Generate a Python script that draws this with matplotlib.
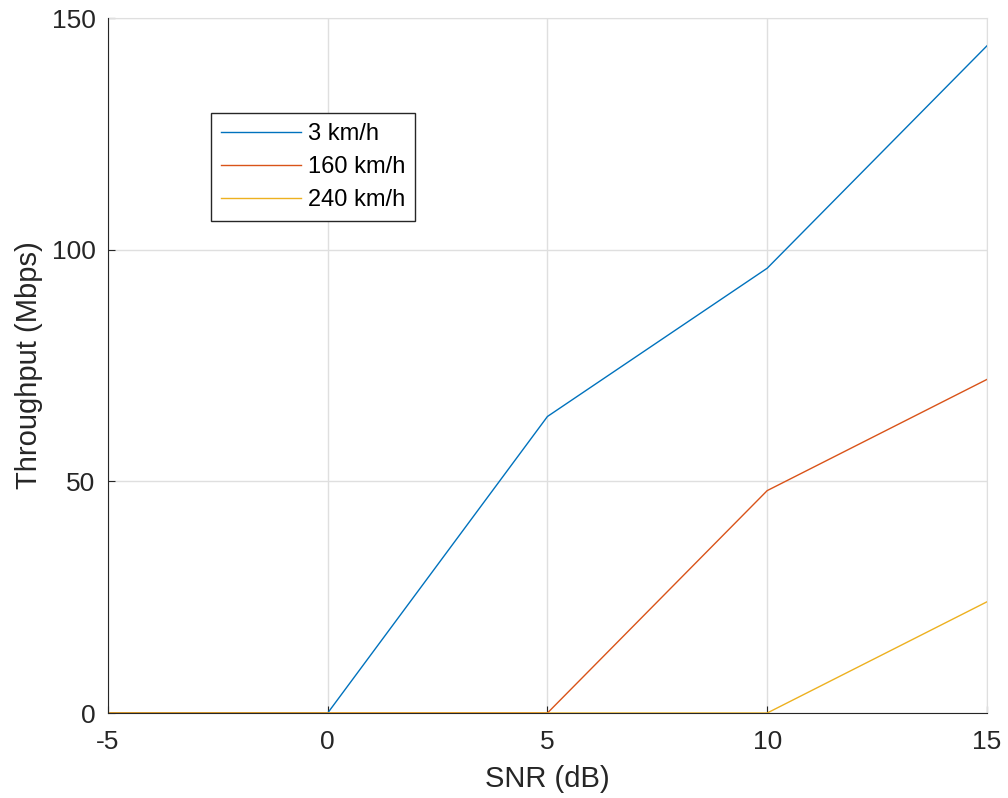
import matplotlib.pyplot as plt

snr = [-5, 0, 5, 10, 15]
speeds = ['3 km/h', '160 km/h', '240 km/h']
thr_3 = [0, 0, 64, 96, 144]
thr_160 = [0, 0, 0, 48, 72]
thr_240 = [0, 0, 0, 0, 24]
colors = ['#0072BD', '#D95319', '#EDB120']

plt.rcParams['font.family'] = ['Liberation Sans', 'DejaVu Sans']
plt.rcParams['axes.unicode_minus'] = False

fig = plt.figure(figsize=(10.08, 7.98), dpi=100)
ax = fig.add_axes([0.1071, 0.1065, 0.8720, 0.8709])

for y, lab, c in zip([thr_3, thr_160, thr_240], speeds, colors):
    ax.plot(snr, y, color=c, lw=1.0, label=lab)

ax.set_xlim(-5, 15)
ax.set_ylim(0, 150)
ax.set_xticks([-5, 0, 5, 10, 15])
ax.set_yticks([0, 50, 100, 150])
ax.grid(True, color='#dfdfdf', lw=1.0)
ax.set_axisbelow(True)
for s in ['top', 'right']:
    ax.spines[s].set_color('#dfdfdf')
for s in ['left', 'bottom']:
    ax.spines[s].set_color('#262626')
    ax.spines[s].set_zorder(5)
ax.tick_params(direction='in', length=5, labelsize=19, colors='#262626')
ax.tick_params(axis='x', pad=12)
ax.tick_params(axis='y', pad=9)
ax.set_xlabel('SNR (dB)', fontsize=21, color='#262626', labelpad=8)
ax.set_ylabel('Throughput (Mbps)', fontsize=21, color='#262626', labelpad=6)

leg = ax.legend(loc='upper left', bbox_to_anchor=(0.117, 0.863), borderaxespad=0,
                fontsize=17, frameon=True, fancybox=False, edgecolor='#262626',
                framealpha=1, handlelength=3.4, borderpad=0.42, labelspacing=0.46,
                handletextpad=0.3)
leg.get_frame().set_linewidth(1.0)

fig.savefig('out.png', dpi=100)
